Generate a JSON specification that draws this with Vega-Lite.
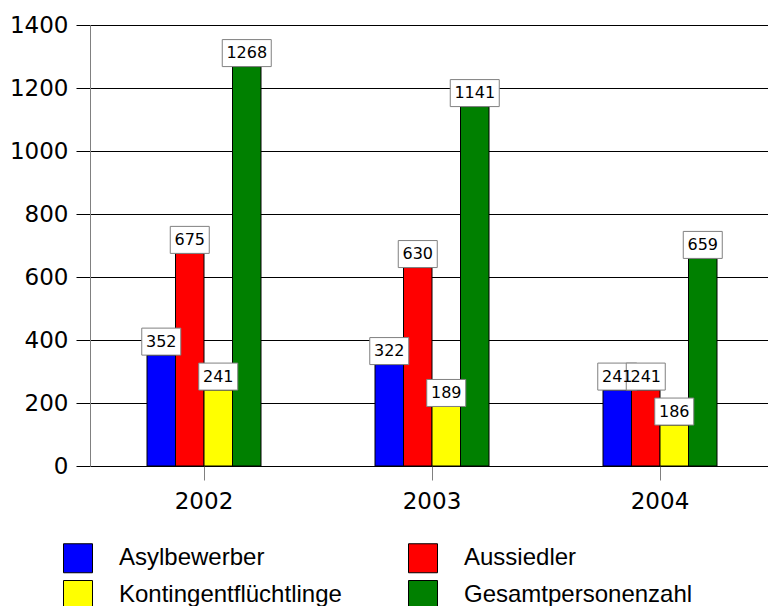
{
  "$schema": "https://vega.github.io/schema/vega-lite/v6.json",
  "autosize": {"type": "none"},
  "padding": {"left": 90, "top": 25, "right": 0, "bottom": 140},
  "width": 684,
  "height": 441,
  "config": {"view": {"stroke": null}},
  "data": {
    "values": [
      {"year": "2002", "series": "Asylbewerber", "value": 352, "label": "352"},
      {"year": "2002", "series": "Aussiedler", "value": 675, "label": "675"},
      {"year": "2002", "series": "Kontingentflüchtlinge", "value": 241, "label": "241"},
      {"year": "2002", "series": "Gesamtpersonenzahl", "value": 1268, "label": "1268"},
      {"year": "2003", "series": "Asylbewerber", "value": 322, "label": "322"},
      {"year": "2003", "series": "Aussiedler", "value": 630, "label": "630"},
      {"year": "2003", "series": "Kontingentflüchtlinge", "value": 189, "label": "189"},
      {"year": "2003", "series": "Gesamtpersonenzahl", "value": 1141, "label": "1141"},
      {"year": "2004", "series": "Asylbewerber", "value": 241, "label": "241"},
      {"year": "2004", "series": "Aussiedler", "value": 241, "label": "241"},
      {"year": "2004", "series": "Kontingentflüchtlinge", "value": 130, "label": "186"},
      {"year": "2004", "series": "Gesamtpersonenzahl", "value": 659, "label": "659"}
    ]
  },
  "encoding": {
    "x": {
      "field": "year", "type": "nominal",
      "scale": {"paddingInner": 0.5, "paddingOuter": 0.25},
      "axis": {
        "title": null, "labelAngle": 0, "domain": false,
        "tickColor": "#808080", "tickSize": 14,
        "labelFont": "DejaVu Sans", "labelFontSize": 23, "labelColor": "black",
        "labelPadding": 10
      }
    },
    "xOffset": {
      "field": "series", "type": "nominal",
      "sort": ["Asylbewerber", "Aussiedler", "Kontingentflüchtlinge", "Gesamtpersonenzahl"],
      "scale": {"paddingInner": 0, "paddingOuter": 0}
    },
    "y": {
      "field": "value", "type": "quantitative",
      "scale": {"domain": [0, 1400], "nice": false},
      "axis": {
        "title": null, "values": [0, 200, 400, 600, 800, 1000, 1200, 1400], "format": "d",
        "grid": true, "gridColor": "black", "gridOpacity": 1, "gridWidth": 1,
        "tickColor": "black", "tickSize": 14,
        "domainColor": "#808080",
        "labelFont": "DejaVu Sans", "labelFontSize": 23, "labelColor": "black",
        "labelPadding": 8
      }
    }
  },
  "layer": [
    {
      "mark": {"type": "bar", "stroke": "black", "strokeWidth": 1},
      "encoding": {
        "color": {
          "field": "series", "type": "nominal",
          "scale": {
            "domain": ["Asylbewerber", "Aussiedler", "Kontingentflüchtlinge", "Gesamtpersonenzahl"],
            "range": ["#0000ff", "#ff0000", "#ffff00", "#008000"]
          },
          "legend": {
            "title": null, "orient": "none", "legendX": -27, "legendY": 518,
            "direction": "horizontal",
            "columns": 2, "columnPadding": 64, "rowPadding": 3,
            "symbolType": "square", "symbolSize": 841,
            "symbolStrokeColor": "black", "symbolStrokeWidth": 1, "symbolOpacity": 1,
            "labelFont": "Liberation Sans", "labelFontSize": 24, "labelColor": "black",
            "labelOffset": 26, "labelLimit": 400, "padding": 0
          }
        }
      }
    },
    {
      "mark": {"type": "point", "filled": true, "fill": "white", "stroke": "#808080", "strokeWidth": 1, "opacity": 1},
      "encoding": {
        "shape": {
          "condition": {"test": "length(datum.label) > 3", "value": "M-1,-1.102L1,-1.102L1,0L-1,0Z"},
          "value": "M-0.975,-1.35L0.975,-1.35L0.975,0L-0.975,0Z"
        },
        "size": {
          "condition": {"test": "length(datum.label) > 3", "value": 2401},
          "value": 1600
        }
      }
    },
    {
      "mark": {"type": "text", "font": "DejaVu Sans", "fontSize": 16, "color": "black", "baseline": "middle", "dy": -13.5},
      "encoding": {"text": {"field": "label"}}
    }
  ]
}
